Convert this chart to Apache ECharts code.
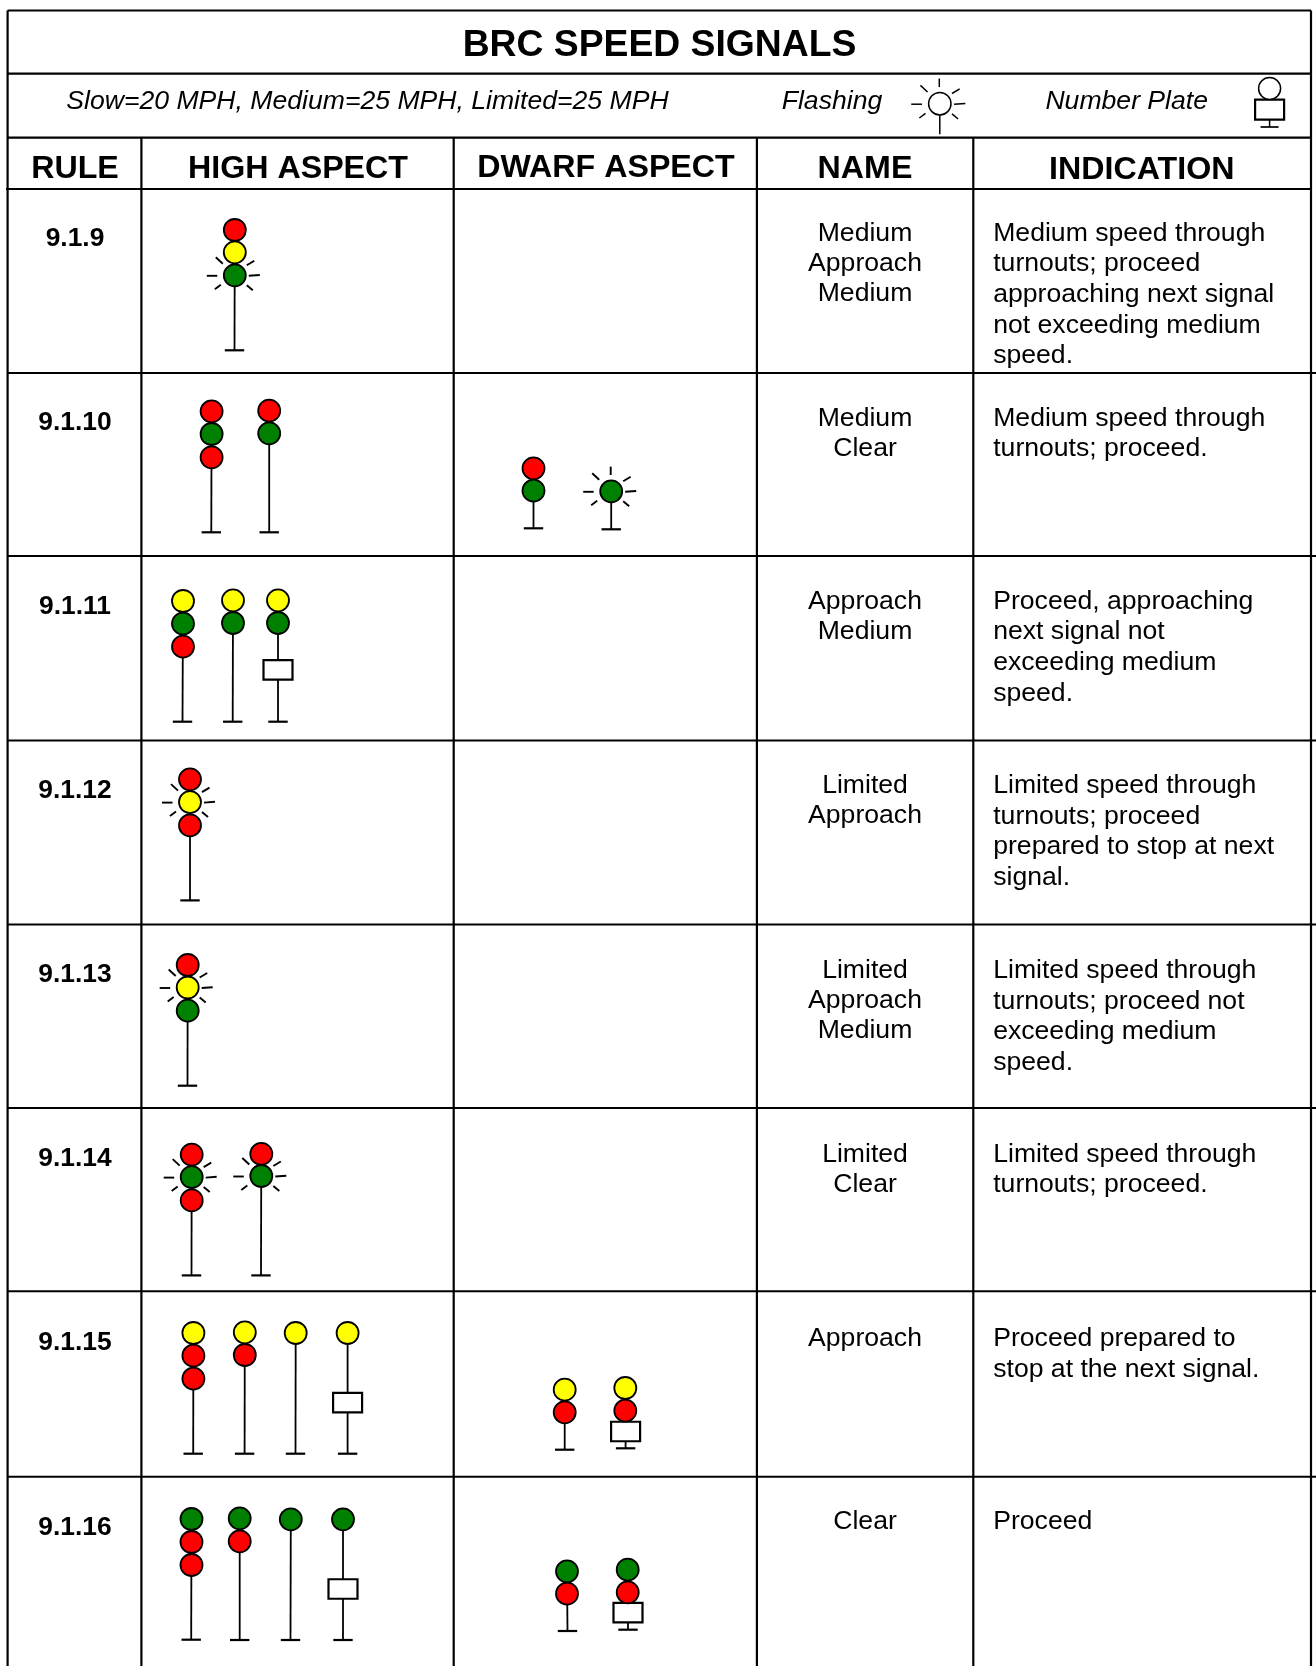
<!DOCTYPE html>
<html><head><meta charset="utf-8">
<style>html,body{margin:0;padding:0;background:#fff}#c{width:1316px;height:1666px}</style>
<script src="https://cdn.jsdelivr.net/npm/echarts@6/dist/echarts.min.js"></script>
</head><body><div id="c"></div>
<script>
// ---- Text content ----
const chartTitle = 'BRC SPEED SIGNALS';
const speedNote = 'Slow=20 MPH, Medium=25 MPH, Limited=25 MPH';
const legendTexts = ['Flashing', 'Number Plate'];
const headers = ['RULE', 'HIGH ASPECT', 'DWARF ASPECT', 'NAME', 'INDICATION'];
const ruleLabels = ['9.1.9','9.1.10','9.1.11','9.1.12','9.1.13','9.1.14','9.1.15','9.1.16'];
const nameLines = [
  ['Medium','Approach','Medium'],['Medium','Clear'],['Approach','Medium'],['Limited','Approach'],
  ['Limited','Approach','Medium'],['Limited','Clear'],['Approach'],['Clear']];
const indicationLines = [
  ['Medium speed through','turnouts; proceed','approaching next signal','not exceeding medium','speed.'],
  ['Medium speed through','turnouts; proceed.'],
  ['Proceed, approaching','next signal not','exceeding medium','speed.'],
  ['Limited speed through','turnouts; proceed','prepared to stop at next','signal.'],
  ['Limited speed through','turnouts; proceed not','exceeding medium','speed.'],
  ['Limited speed through','turnouts; proceed.'],
  ['Proceed prepared to','stop at the next signal.'],
  ['Proceed']];

// ---- Signal aspects: lamp colours, flashing lamp index (-1 none), number plate ----
const R='red', Y='yellow', G='green';
const signalLamps = [
  [R,Y,G], [R,G,R],[R,G],[R,G],[G], [Y,G,R],[Y,G],[Y,G], [R,Y,R], [R,Y,G], [R,G,R],[R,G],
  [Y,R,R],[Y,R],[Y],[Y],[Y,R],[Y,R], [G,R,R],[G,R],[G],[G],[G,R],[G,R]];
const signalFlash = [
  2, -1,-1,-1,0, -1,-1,-1, 1, 1, 1,1,
  -1,-1,-1,-1,-1,-1, -1,-1,-1,-1,-1,-1];
// ---- Readings, in axis units ----
const signalTopX = [234.8, 211.6,269.2,533.5,611.2, 183,233,278, 190, 187.7, 191.7,261.3,
  193.4,244.8,295.7,347.6,564.7,625.3, 191.5,239.7,290.8,343,567,627.7];
const signalFootX = [234.5, 211.3,269.2,533.5,611.2, 182.5,232.7,278, 190, 187.5, 191.5,261,
  193.2,244.6,295.5,347.6,564.7,625.6, 191.2,239.7,290.5,343,567.5,628];
const signalFootY = [350.3, 532.3,532.3,528.3,529.3, 721.7,721.7,721.7, 900.4, 1085.7, 1275.4,1275.4,
  1453.7,1453.7,1453.7,1453.7,1449.7,1448.3, 1639.7,1640,1640,1640,1631,1629.7];
const signalLampY = [[230,252.3,275.3],
  [411.3,434,457.3],[410.7,433.3],[468.3,490.7],[491.3],
  [601,623.7,646.7],[600.3,623],[600.3,623],
  [779.3,802.1,825.4],[965,987.5,1010.7],[1154.6,1177.1,1200.4],[1153.9,1176],
  [1333,1355.7,1378.7],[1332.3,1355],[1333],[1333],[1389.7,1412.3],[1388,1410.7],
  [1519,1542,1565],[1518.3,1541.3],[1519.3],[1519.3],[1571.3,1593.7],[1569.7,1592.3]];
const signalPlateY = [0, 0,0,0,0, 0,0,669.8, 0,0,0,0, 0,0,0,1402.7,0,1431.5, 0,0,0,1589,0,1612.7];

const columnEdges = [7.6, 141.4, 453.7, 756.9, 973.3, 1311];
const rowEdges = [189, 373, 556, 740.4, 924.4, 1108, 1291.2, 1476.8];
const bandEdges = [10.5, 73.7, 137.7];
const ruleBaseline = [246, 430, 614.3, 797.9, 982, 1166, 1350, 1535];
const nameBaseline = [240.7, 425.4, 608.6, 792.9, 978, 1161.7, 1345.8, 1529];
const headerX = [75, 298, 606, 865, 1141.8];
const headerBaseline = [178, 178, 177, 178, 179];

const FONT = '"Liberation Sans", Arial, sans-serif';
const BODY = 26.6, BOLDBODY = 26.4, HEAD = 32.2, TITLE = 37.3;
const TEXT_DROP = 2;
const LAMP_R = 11, PLATE_W = 29, PLATE_H = 19.5, FOOT = 9.7;
const LAMP_FILL = {red:'#ff0000', yellow:'#ffff00', green:'#008000'};
const RAY_LEN = [[-28,0.5,-17.5,0.5],[14,0.5,25,-0.3],[-19,-18,-12,-11.5],[12,-10,19.5,-14.5],[-20,14,-14,9.5],[12,10,18,15]];
const RAY_TOP = [-0.5,-24.7,-0.5,-16.3];

// ---- Flatten to marks ----
const segs = [];   // [x1,y1,x2,y2,width]
const add = (a,b,c,d,w)=>segs.push([a,b,c,d,w]);
add(columnEdges[0],bandEdges[0],columnEdges[5],bandEdges[0],2.2);
add(columnEdges[0],bandEdges[1],columnEdges[5],bandEdges[1],2.2);
add(columnEdges[0],bandEdges[2],columnEdges[5],bandEdges[2],2.2);
add(6,rowEdges[0],1311,rowEdges[0],2);
rowEdges.slice(1).forEach(y=>add(columnEdges[0],y,1316,y,2));
columnEdges.forEach((x,i)=>add(x,(i===0||i===5)?bandEdges[0]:bandEdges[2],x,1666,2.2));

const circles = [], plates = [];
signalLamps.forEach((lamps,s)=>{
  add(signalTopX[s],signalLampY[s][0],signalFootX[s],signalFootY[s],1.8);
  add(signalFootX[s]-FOOT,signalFootY[s],signalFootX[s]+FOOT,signalFootY[s],2.2);
  if (signalPlateY[s]) plates.push([signalFootX[s],signalPlateY[s],PLATE_W,PLATE_H]);
  lamps.forEach((c,i)=>{
    circles.push([signalTopX[s],signalLampY[s][i],LAMP_R,LAMP_FILL[c],1.8]);
    if (signalFlash[s]===i){
      const cy=signalLampY[s][i], cx=signalTopX[s];
      const rays = i===0 ? RAY_LEN.concat([RAY_TOP]) : RAY_LEN;
      rays.forEach(r=>add(cx+r[0],cy+r[1],cx+r[2],cy+r[3],1.9));
    }
  });
});
// legend glyphs
const flashX=939.8, flashY=103.7;
RAY_LEN.concat([RAY_TOP]).forEach(r=>add(flashX+r[0]*1.02,flashY+r[1]*1.02,flashX+r[2]*1.02,flashY+r[3]*1.02,1.5));
add(flashX,flashY,flashX,134.3,1.5);
circles.push([flashX,flashY,11.2,'#ffffff',1.5]);
const plateX=1269.6;
add(plateX,110,plateX,127,1.5); add(plateX-9,127,plateX+9,127,1.7);
circles.push([plateX,88.5,11,'#ffffff',1.5]);
plates.push([plateX,109.7,29,20]);

const texts = []; // [str,x,baseline,size,bold,italic,align]
texts.push([chartTitle,659.5,57,TITLE,1,0,'center']);
texts.push([speedNote,66.3,109,BODY,0,1,'left']);
texts.push([legendTexts[0],781.7,109,BODY,0,1,'left']);
texts.push([legendTexts[1],1045.4,109,BODY,0,1,'left']);
headers.forEach((h,i)=>texts.push([h,headerX[i],headerBaseline[i],HEAD,1,0,'center']));
ruleLabels.forEach((t,i)=>texts.push([t,75,ruleBaseline[i],BOLDBODY,1,0,'center']));
nameLines.forEach((ls,r)=>ls.forEach((t,i)=>texts.push([t,865,nameBaseline[r]+i*30.1,BODY,0,0,'center'])));
indicationLines.forEach((ls,r)=>ls.forEach((t,i)=>texts.push([t,993.2,nameBaseline[r]+i*30.6,BODY,0,0,'left'])));

const idx = a => a.map((_,i)=>i);
const stroke = '#000';
const chart = echarts.init(document.getElementById('c'), null, {renderer:'canvas'});
chart.setOption({
  animation:false, backgroundColor:'#fff',
  grid:{left:0,right:0,top:0,bottom:0},
  xAxis:{type:'value',min:0,max:1316,show:false},
  yAxis:{type:'value',min:0,max:1666,inverse:true,show:false},
  tooltip:{show:false},
  series:[
    {type:'custom',name:'lines',silent:true,clip:false,z:1,data:idx(segs),
     renderItem:(p,api)=>{const s=segs[p.dataIndex],a=api.coord([s[0],s[1]]),b=api.coord([s[2],s[3]]);
       return {type:'line',shape:{x1:a[0],y1:a[1],x2:b[0],y2:b[1]},style:{stroke,lineWidth:s[4],fill:null}};}},
    {type:'custom',name:'plates',silent:true,clip:false,z:2,data:idx(plates),
     renderItem:(p,api)=>{const s=plates[p.dataIndex],a=api.coord([s[0],s[1]]);
       return {type:'rect',shape:{x:a[0]-s[2]/2,y:a[1]-s[3]/2,width:s[2],height:s[3]},style:{fill:'#fff',stroke,lineWidth:2.2}};}},
    {type:'custom',name:'lamps',silent:true,clip:false,z:3,data:idx(circles),
     renderItem:(p,api)=>{const s=circles[p.dataIndex],a=api.coord([s[0],s[1]]);
       return {type:'circle',shape:{cx:a[0],cy:a[1],r:s[2]},style:{fill:s[3],stroke,lineWidth:s[4]}};}},
    {type:'custom',name:'texts',silent:true,clip:false,z:4,data:idx(texts),
     renderItem:(p,api)=>{const s=texts[p.dataIndex],a=api.coord([s[1],s[2]-0.3465*s[3]+TEXT_DROP]);
       return {type:'text',x:a[0],y:a[1],style:{text:s[0],fill:'#000',align:s[6],verticalAlign:'middle',
         font:(s[5]?'italic ':'')+(s[4]?'bold ':'')+s[3]+'px '+FONT}};}}
  ]
});
</script></body></html>
